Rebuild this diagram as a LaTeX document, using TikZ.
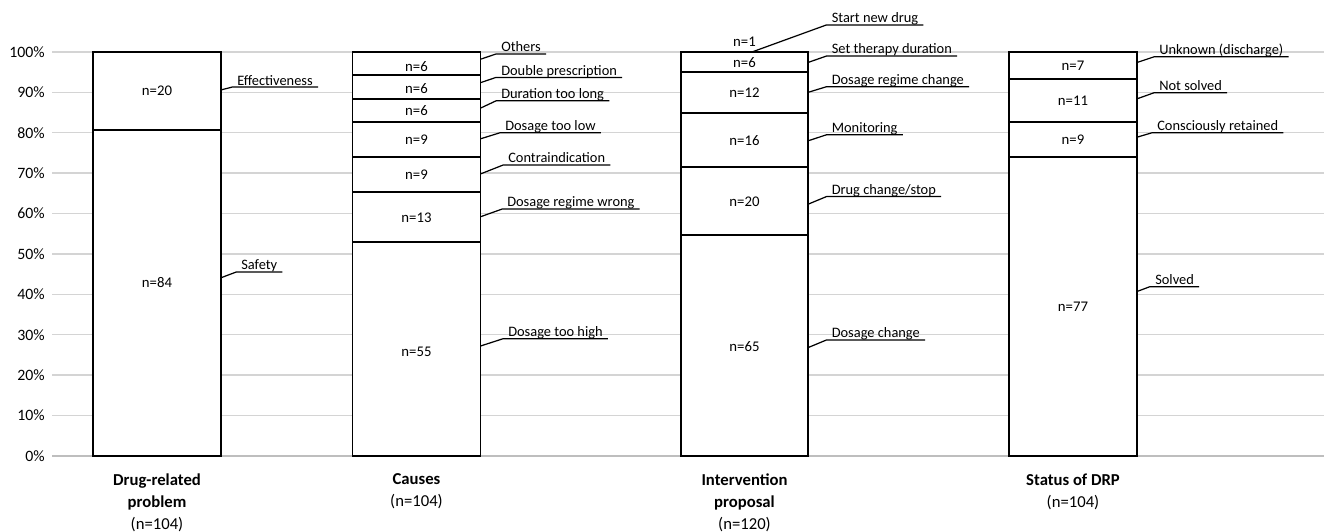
\documentclass[tikz,border=0pt]{standalone}
\usepackage{fontspec}
\setmainfont{Carlito}
\usepackage{tikz}
\usetikzlibrary{positioning}
\definecolor{gridgray}{RGB}{212,212,212}
\definecolor{axisgray}{RGB}{190,190,190}
\tikzstyle{gridline} = [draw=gridgray, line width=0.8pt]
\tikzstyle{axisline} = [draw=axisgray, line width=1.1pt]
\tikzstyle{bar} = [draw=black, fill=white, line width=1.05pt]
\tikzstyle{count} = [inner sep=0pt, font=\fontsize{8.4}{10}\selectfont]
\tikzstyle{callout} = [anchor=south west, inner xsep=2.8pt, inner ysep=1pt, text depth=0pt, font=\fontsize{8.2}{9.8}\selectfont]
\tikzstyle{leader} = [draw=black, line width=0.7pt]
\tikzstyle{axislabel} = [anchor=east, inner sep=0pt, font=\fontsize{9}{10.8}\selectfont]
\tikzstyle{catlabel} = [anchor=north, align=center, inner sep=0pt, font=\fontsize{9.5}{12.7}\selectfont]

\begin{document}
\begin{tikzpicture}[x=0.02cm, y=0.0808cm]
\useasboundingbox (0,-18.81) rectangle (1324,112.87);
% grid and percent scale
\foreach \p in {10,20,...,100}
  \draw [gridline] (52,\p) -- (1324,\p);
\draw [axisline] (52,0) -- (1324,0);
\foreach \p in {0,10,...,100}
  \node (tick\p) [axislabel] at (45,\p) {\p\%};

% Drug-related problem
\foreach \lo/\hi in {0/80.77, 80.77/100}
  \draw [bar] (93,\lo) rectangle (221,\hi);
\node (dp20) [count] at (157,90.4) {n=20};
\node (dp84) [count] at (157,42.9) {n=84};
\foreach \nm/\sy/\ex/\ey/\txt in {eff/90.6/232/91.3/Effectiveness, saf/44.1/236/45.5/Safety} {
  \coordinate (\nm s) at (221,\sy);
  \node (\nm) [callout] at (\ex,\ey) {\txt};
  \draw [leader] (\nm s) -- (\nm.south west) -- (\nm.south east);
}

% Causes
\foreach \lo/\hi in {0/52.88, 52.88/65.38, 65.38/74.04, 74.04/82.69, 82.69/88.46, 88.46/94.23, 94.23/100}
  \draw [bar] (352.5,\lo) rectangle (480.5,\hi);
\foreach \y/\n [count=\i] in {25.8/55, 59.0/13, 69.6/9, 78.2/9, 85.4/6, 91.0/6, 96.3/6}
  \node (ca\i) [count] at (416.5,\y) {n=\n};
\foreach \nm/\sy/\ex/\ey/\txt in {oth/98.2/496/99.5/Others, dbl/92.4/496/93.7/Double prescription,
    dur/86.1/496/87.9/Duration too long, low/78.5/500/80.0/Dosage too low,
    con/69.8/503/72.0/Contraindication, reg/59.2/502/61.1/Dosage regime wrong,
    hig/27.2/503/29.0/Dosage too high} {
  \coordinate (\nm s) at (480.5,\sy);
  \node (\nm) [callout] at (\ex,\ey) {\txt};
  \draw [leader] (\nm s) -- (\nm.south west) -- (\nm.south east);
}

% Intervention proposal
\foreach \lo/\hi in {0/54.62, 54.62/71.43, 71.43/84.87, 84.87/94.96, 94.96/100}
  \draw [bar] (681,\lo) rectangle (808,\hi);
\foreach \y/\n [count=\i] in {27.1/65, 62.9/20, 78.0/16, 89.9/12, 97.4/6, 102.6/1}
  \node (ip\i) [count] at (744.5,\y) {n=\n};
\coordinate (news) at (752,100);
\node (new) [callout] at (826.5,106.7) {Start new drug};
\draw [leader] (news) -- (new.south west) -- (new.south east);
\foreach \nm/\sy/\ey/\txt in {set/97.4/99.0/Set therapy duration, drc/90.0/91.4/Dosage regime change,
    mon/78.0/79.5/Monitoring, chg/62.3/64.2/{Drug change/stop}, dch/26.8/28.7/Dosage change} {
  \coordinate (\nm s) at (808,\sy);
  \node (\nm) [callout] at (826.5,\ey) {\txt};
  \draw [leader] (\nm s) -- (\nm.south west) -- (\nm.south east);
}

% Status of DRP
\foreach \lo/\hi in {0/74.04, 74.04/82.69, 82.69/93.27, 93.27/100}
  \draw [bar] (1009,\lo) rectangle (1137,\hi);
\foreach \y/\n [count=\i] in {37.0/77, 78.2/9, 87.8/11, 96.6/7}
  \node (st\i) [count] at (1073,\y) {n=\n};
\foreach \nm/\sy/\ex/\ey/\txt in {unk/97.4/1154/98.8/Unknown (discharge), nos/88.4/1154/89.9/Not solved,
    ret/78.9/1152/80.0/Consciously retained, sol/40.7/1150/41.9/Solved} {
  \coordinate (\nm s) at (1137,\sy);
  \node (\nm) [callout] at (\ex,\ey) {\txt};
  \draw [leader] (\nm s) -- (\nm.south west) -- (\nm.south east);
}

% categories
\node (cat1) [catlabel] at (157,-4.3) {\textbf{Drug-related}\\\textbf{problem}\\(n=104)};
\node (cat2) [catlabel] at (416.5,-4.3) {\textbf{Causes}\\(n=104)};
\node (cat3) [catlabel] at (744.5,-4.3) {\textbf{Intervention}\\\textbf{proposal}\\(n=120)};
\node (cat4) [catlabel] at (1073,-4.3) {\textbf{Status of DRP}\\(n=104)};
\end{tikzpicture}
\end{document}
